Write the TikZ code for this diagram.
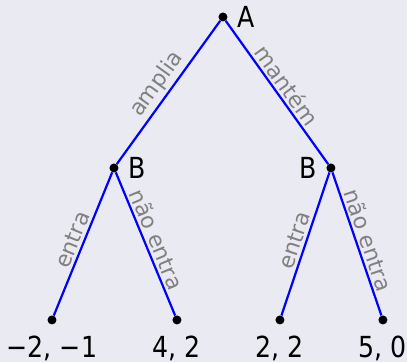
\documentclass[tikz,border=0pt]{standalone}
\usepackage{fontspec}
\setmainfont{DejaVu Sans}
\newfontfamily\narrowsans[FakeStretch=0.87]{DejaVu Sans}
\usetikzlibrary{positioning}
\definecolor{ink}{HTML}{000000}
\definecolor{paper}{HTML}{EAEAF2}
\definecolor{edgeblue}{HTML}{0000FF}
\definecolor{movegray}{HTML}{808080}
\tikzset{
  dot/.style={circle,fill=ink,inner sep=0pt,minimum size=9pt},
  branch/.style={draw=edgeblue,line width=2.2pt},
  movelab/.style={font=\fontsize{22}{22}\selectfont,text=movegray,sloped,above,inner sep=2.5pt},
  playerlab/.style={font=\narrowsans\fontsize{29}{29}\selectfont,text=ink,inner sep=0pt},
  payoff/.style={font=\narrowsans\fontsize{29}{29}\selectfont,text=ink,inner sep=0pt}
}

\begin{document}
\begin{tikzpicture}[x=1pt,y=-1pt]
  \fill[paper] (0,0) rectangle (407,362);
  % decision nodes
  \node[dot] (A) at (223,17) {};
  \node[dot] (B1) at (114,168) {};
  \node[dot] (B2) at (331,168) {};
  % terminal nodes
  \node[dot] (t1) at (52,320) {};
  \node[dot] (t2) at (177,320) {};
  \node[dot] (t3) at (280,320) {};
  \node[dot] (t4) at (383,320) {};
  % players
  \node[playerlab,right=10pt of A] (labA) {A};
  \node[playerlab,right=9.5pt of B1] (labB1) {B};
  \node[playerlab,left=9.5pt of B2] (labB2) {B};
  % moves
  \draw[branch] (A) -- node[movelab] {amplia} (B1);
  \draw[branch] (A) -- node[movelab] {mantém} (B2);
  \draw[branch] (B1) -- node[movelab] {entra} (t1);
  \draw[branch] (B1) -- node[movelab] {não entra} (t2);
  \draw[branch] (B2) -- node[movelab] {entra} (t3);
  \draw[branch] (B2) -- node[movelab] {não entra} (t4);
  % payoffs
  \node[payoff,below=11pt of t1] (p1) {−2, −1};
  \node[payoff,below=11pt of t2] (p2) {4, 2};
  \node[payoff,below=11pt of t3] (p3) {2, 2};
  \node[payoff,below=11pt of t4] (p4) {5, 0};
\end{tikzpicture}
\end{document}
